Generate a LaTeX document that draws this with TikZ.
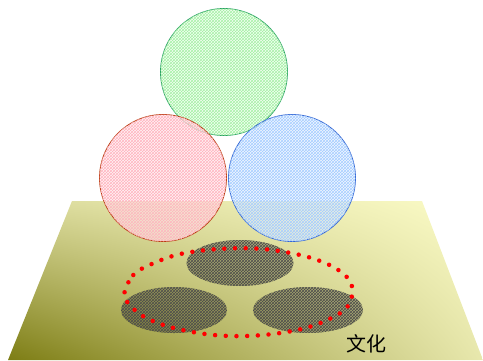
\documentclass[tikz,border=0pt]{standalone}
\usepackage{fontspec}
\newfontfamily\cjkfont{Noto Sans CJK SC}
\usepackage{tikz}
\usetikzlibrary{patterns, shapes.geometric, shadings}
\definecolor{ringgreen}{RGB}{40, 160, 100}
\definecolor{ringred}{RGB}{185, 60, 15}
\definecolor{ringblue}{RGB}{50, 100, 210}
\definecolor{fillgreen}{RGB}{235, 255, 235}
\definecolor{fillred}{RGB}{255, 235, 238}
\definecolor{fillblue}{RGB}{232, 242, 255}
\definecolor{hatchgreen}{RGB}{165, 240, 165}
\definecolor{hatchred}{RGB}{255, 180, 192}
\definecolor{hatchblue}{RGB}{165, 205, 255}
\definecolor{olivedark}{RGB}{125, 125, 20}
\definecolor{olivemid}{RGB}{218, 218, 155}
\definecolor{olivelight}{RGB}{252, 252, 200}

\begin{document}
\begin{tikzpicture}[
    x=1pt, y=-1pt,
    every node/.style={inner sep=0pt},
    plane/.style={lower left=olivedark, upper left=olivemid, upper right=olivelight, lower right=olivemid!60!olivelight},
    ring/.style n args={3}{circle, draw=#1, thick, minimum size=127pt, fill=#2, fill opacity=0.6, postaction={pattern=crosshatch, pattern color=#3}},
    blob/.style={ellipse, fill=black, fill opacity=0.22, postaction={pattern=crosshatch, pattern color=black!70}},
    redloop/.style={red, line width=4.5pt, line cap=round, dash pattern=on 0pt off 10.7pt}
]
    \useasboundingbox (0,0) rectangle (483,360);

    % Plane
    \shade[plane] (72,201) -- (422,201) -- (483,360) -- (8,360) -- cycle;

    % Nodes
    \node (green) [ring={ringgreen}{fillgreen}{hatchgreen}] at (224,72) {};
    \node (red) [ring={ringred}{fillred}{hatchred}] at (163,178) {};
    \node (blue) [ring={ringblue}{fillblue}{hatchblue}] at (292,178) {};

    \node (top) [blob, minimum width=107pt, minimum height=46pt] at (240,263) {};
    \node (left) [blob, minimum width=106pt, minimum height=46pt] at (174,310) {};
    \node (right) [blob, minimum width=110pt, minimum height=46pt] at (308,310) {};

    % Dotted loop
    \draw[redloop] plot[smooth cycle, tension=0.6] coordinates {
        (124.3,293.3) (133.3,275) (151.7,264) (181.7,253.7) (224,248.7)
        (266,249.3) (308,257) (337.3,269.3) (351.7,285) (348.7,305)
        (332,317.7) (301.7,329) (259.7,335.3) (217,335.3) (175,328.3)
        (145,317.3) (128.7,303.7)};

    \node (label) [font=\cjkfont\fontsize{20}{20}\selectfont] at (366,344) {文化};
\end{tikzpicture}
\end{document}
